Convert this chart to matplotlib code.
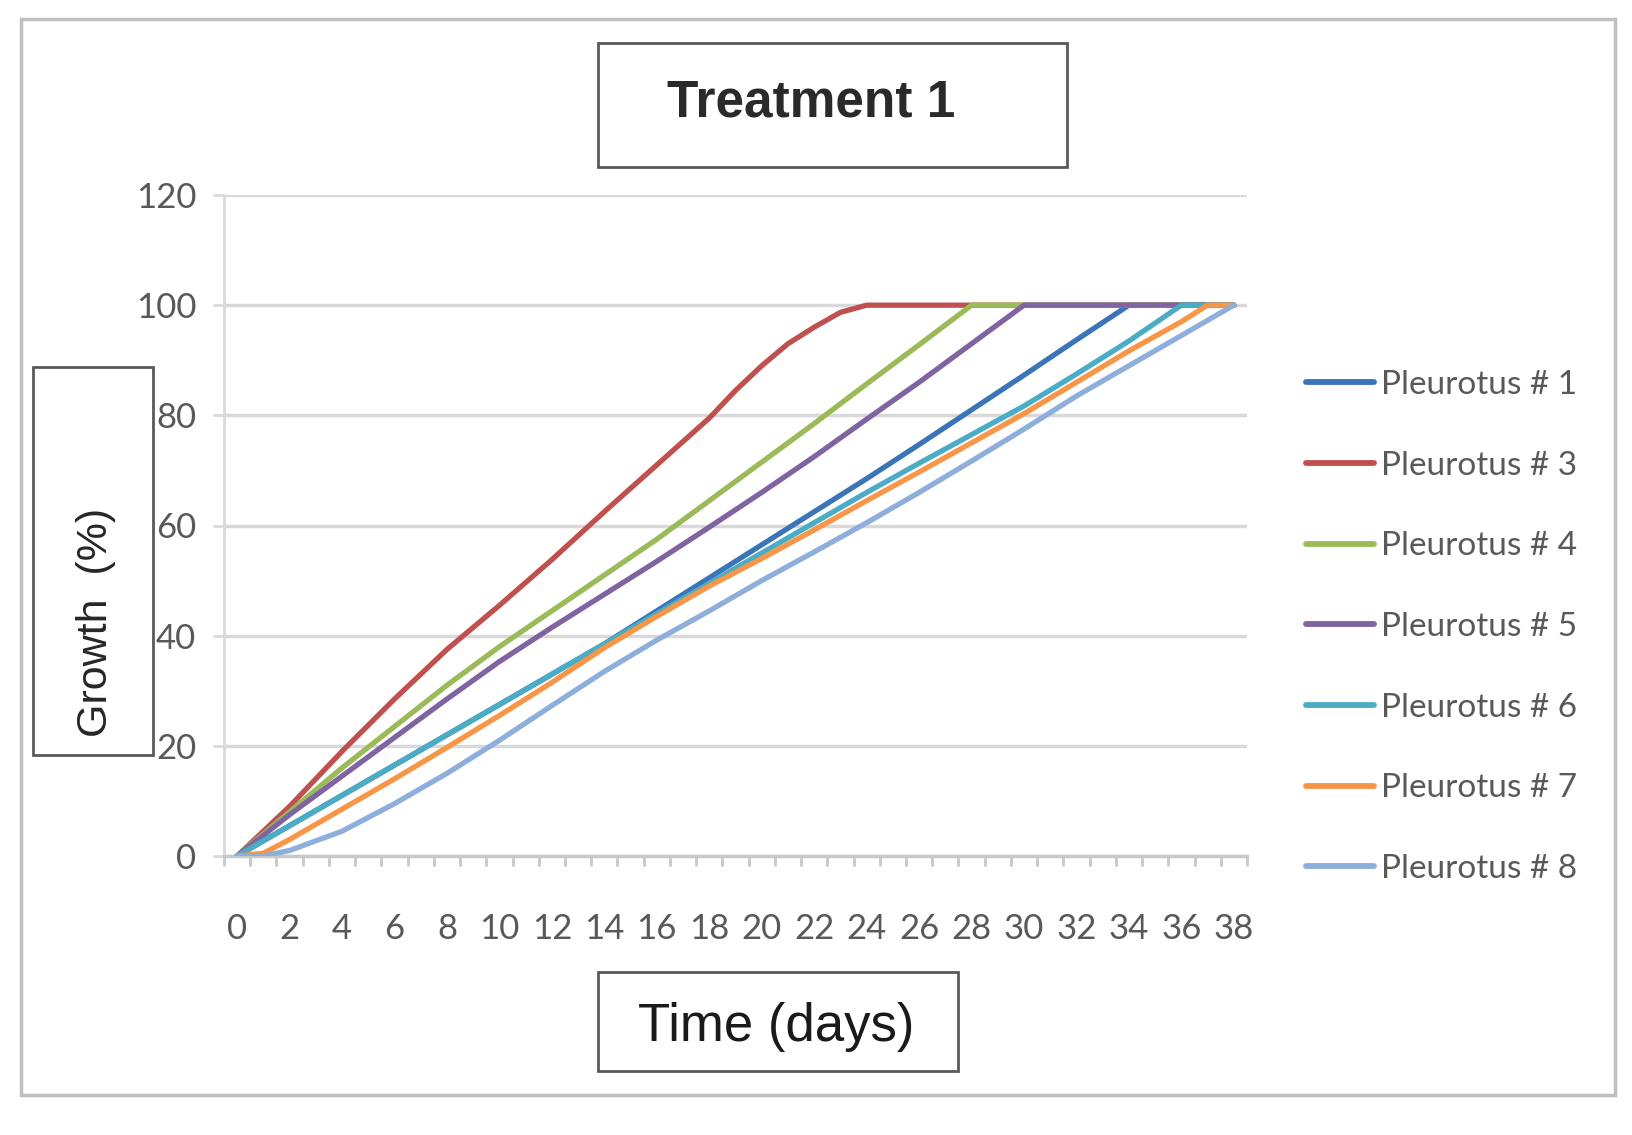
import numpy as np
import matplotlib
matplotlib.use("Agg")
import matplotlib.pyplot as plt
from matplotlib.patches import Rectangle
from matplotlib.ticker import FixedLocator

W, H = 1632, 1135
NARROW = ['Liberation Sans Narrow', 'Lato', 'DejaVu Sans']
ARIAL = ['Liberation Sans', 'DejaVu Sans']

# ---------------- data ----------------
series_names = ["Pleurotus # 1", "Pleurotus # 3", "Pleurotus # 4", "Pleurotus # 5",
                "Pleurotus # 6", "Pleurotus # 7", "Pleurotus # 8"]
colors = ["#3C74B8", "#C0504D", "#9BBB59", "#8064A2", "#4BACC6", "#F79646", "#8EAEDC"]

even_days = [0, 2, 4, 6, 8, 10, 12, 14, 16, 18, 20, 22, 24, 26, 28, 30, 32, 34, 36, 38]

p1_days = even_days
p1_vals = [0, 5.5, 11, 16.5, 22, 27.5, 33, 38.5, 44.5, 50.5, 56.5, 62.5, 68.5, 74.7,
           81, 87.3, 93.7, 100, 100, 100]

p3_days = [0, 2, 4, 6, 8, 10, 12, 14, 16, 18, 19, 20, 21, 22, 23, 24, 38]
p3_vals = [0, 9, 19, 28.5, 37.5, 45.5, 53.8, 62.5, 71, 79.5, 84.5, 89, 93, 96, 98.7, 100, 100]

p4_days = even_days
p4_vals = [0, 8, 16, 23.5, 31, 38, 44.5, 51, 57.5, 64.5, 71.5, 78.5, 85.7, 92.8,
           100, 100, 100, 100, 100, 100]

p5_days = even_days
p5_vals = [0, 7.5, 14.5, 21.5, 28.5, 35.3, 41.5, 47.5, 53.5, 59.7, 66, 72.5, 79.3, 86,
           93, 100, 100, 100, 100, 100]

p6_days = even_days
p6_vals = [0, 5.5, 11, 16.5, 22, 27.5, 33, 38.5, 44, 49.5, 55, 60.5, 66, 71.3, 76.5,
           81.7, 87.5, 93.5, 100, 100]

p7_days = [0, 1, 2, 4, 6, 8, 10, 12, 14, 16, 18, 20, 22, 24, 26, 28, 30, 32, 34, 36, 37, 38]
p7_vals = [0, 0.5, 3, 8.5, 14, 19.7, 25.5, 31.5, 37.8, 43.5, 49, 54, 59.2, 64.5, 69.7,
           75, 80.3, 86, 91.7, 97, 100, 100]

p8_days = [0, 1, 2, 4, 6, 8, 10, 12, 14, 16, 18, 20, 22, 24, 26, 28, 30, 32, 34, 36, 38]
p8_vals = [0, 0, 1, 4.5, 9.5, 15, 21, 27.3, 33.5, 39.2, 44.5, 50, 55.2, 60.5, 66, 71.7,
           77.5, 83.5, 89, 94.5, 100]

all_days = [p1_days, p3_days, p4_days, p5_days, p6_days, p7_days, p8_days]
all_vals = [p1_vals, p3_vals, p4_vals, p5_vals, p6_vals, p7_vals, p8_vals]

x_tick_labels = [str(d) for d in range(0, 39, 2)]
y_ticks = [0, 20, 40, 60, 80, 100, 120]

title_text = "Treatment 1"
xlabel_text = "Time (days)"
ylabel_text = "Growth  (%)"

# ---------------- helpers ----------------
def fx(px):
    return px / W

def fy(py):
    return 1 - py / H

fig = plt.figure(figsize=(W / 100, H / 100), dpi=100)
fig.patch.set_facecolor("white")

ax_left, ax_right, ax_top, ax_bottom = 224, 1247, 195, 856
ax = fig.add_axes([fx(ax_left), fy(ax_bottom), (ax_right - ax_left) / W,
                   (ax_bottom - ax_top) / H])
ax.set_facecolor("white")

for d, v, c, n in zip(all_days, all_vals, colors, series_names):
    ax.plot(d, v, color=c, lw=3.8, label=n, solid_capstyle='round',
            solid_joinstyle='round', zorder=3)

ax.set_xlim(-0.5, 38.5)
ax.set_ylim(0, 120)

ax.set_yticks(y_ticks)
ax.set_yticklabels([str(v) for v in y_ticks], family=NARROW)
ax.yaxis.grid(True, color="#D9D9D9", lw=2.5, zorder=0)
ax.set_axisbelow(True)
ax.tick_params(axis='y', direction='out', length=8, width=2, color="#D9D9D9",
               pad=12, labelsize=25, labelcolor="#595959")

ax.xaxis.set_major_locator(FixedLocator(list(range(0, 39, 2))))
ax.set_xticklabels(x_tick_labels, family=NARROW)
ax.xaxis.set_minor_locator(FixedLocator(list(np.arange(-0.5, 39, 1.0))))
ax.tick_params(axis='x', which='major', length=0, pad=41, labelsize=25,
               labelcolor="#595959")
ax.tick_params(axis='x', which='minor', direction='out', length=7.5, width=2,
               color="#C8C8C8")

for s in ["top", "right"]:
    ax.spines[s].set_visible(False)
ax.spines["left"].set_color("#D9D9D9")
ax.spines["left"].set_linewidth(2)
ax.spines["bottom"].set_color("#C8C8C8")
ax.spines["bottom"].set_linewidth(2.5)

# legend
leg = fig.legend(loc="upper left", bbox_to_anchor=(fx(1306), fy(370)),
                 frameon=False, prop={'family': NARROW, 'size': 24},
                 handlelength=2.05, handletextpad=0.2, labelspacing=1.52,
                 borderpad=0, borderaxespad=0)
for t in leg.get_texts():
    t.set_color("#595959")
for l in leg.get_lines():
    l.set_linewidth(4.2)

# outer border
fig.add_artist(Rectangle((fx(21), fy(1095)), (1615 - 21) / W, (1095 - 19) / H,
                         transform=fig.transFigure, fill=False,
                         edgecolor="#BFBFBF", lw=2.5, zorder=0.5))

def box(x0, y0, x1, y1):
    fig.add_artist(Rectangle((fx(x0), fy(y1)), (x1 - x0) / W, (y1 - y0) / H,
                             transform=fig.transFigure, facecolor="white",
                             edgecolor="#595959", lw=2, zorder=5))

box(598, 43, 1067, 167)
fig.text(fx(811), fy(103), title_text, ha="center", va="center", fontsize=37,
         fontweight="bold", family=ARIAL, color="#2a2a2a", zorder=6)

box(598, 972, 958, 1071)
fig.text(fx(776), fy(1027), xlabel_text, ha="center", va="center", fontsize=38,
         family=ARIAL, color="#1a1a1a", zorder=6)

box(33, 367, 153, 755)
fig.text(fx(96), fy(622), ylabel_text, ha="center", va="center", fontsize=31,
         rotation=90, family=ARIAL, color="#262626", zorder=6)

fig.savefig("out.png", dpi=100, facecolor="white")
